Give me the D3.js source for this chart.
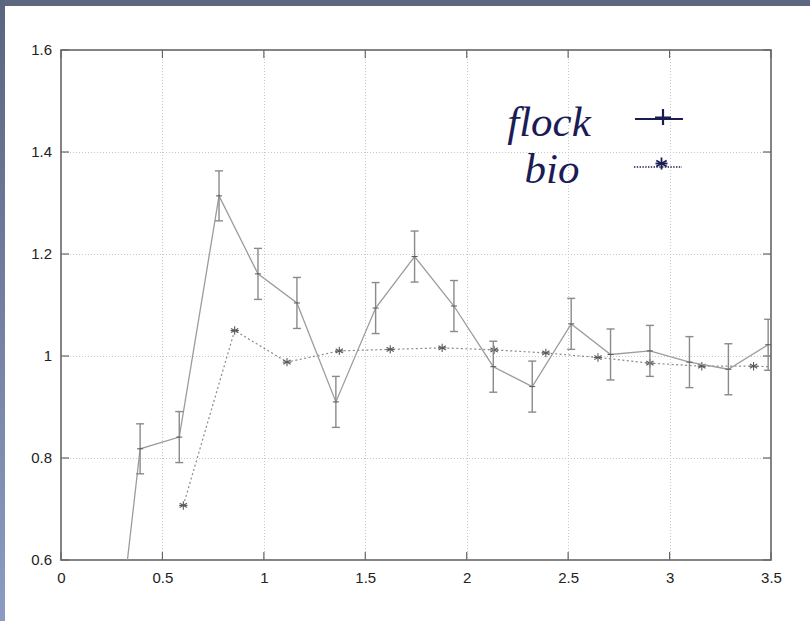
<!DOCTYPE html>
<html>
<head>
<meta charset="utf-8">
<script src="https://cdn.jsdelivr.net/npm/d3@7"></script>
<style>
  body { margin: 0; background: #fff; }
  svg { display: block; }
  .tick-label { font-family: "Liberation Sans", Arial, sans-serif; font-size: 15px; fill: #222; }
  .legend-text { font-family: "Liberation Serif", "Times New Roman", serif; font-style: italic; font-size: 43px; fill: #1c1c55; }
</style>
</head>
<body>
<div id="chart"></div>
<script>
// flock series (with error bars)
var flockX   = [0.19, 0.39, 0.583, 0.779, 0.971, 1.163, 1.355, 1.551, 1.743, 1.937, 2.131, 2.323, 2.515, 2.709, 2.903, 3.098, 3.29, 3.486];
var flockY   = [0.12, 0.818, 0.841, 1.314, 1.161, 1.104, 0.910, 1.094, 1.195, 1.098, 0.979, 0.940, 1.063, 1.003, 1.010, 0.988, 0.974, 1.022];
var flockErr = [0.05, 0.049, 0.050, 0.049, 0.050, 0.050, 0.050, 0.050, 0.050, 0.050, 0.050, 0.050, 0.050, 0.050, 0.050, 0.050, 0.050, 0.050];

// bio series
var bioX = [0.603, 0.856, 1.114, 1.372, 1.623, 1.879, 2.135, 2.39, 2.647, 2.903, 3.159, 3.414, 3.67];
var bioY = [0.707, 1.050, 0.988, 1.010, 1.013, 1.016, 1.012, 1.006, 0.997, 0.986, 0.980, 0.980, 0.977];

var xTicks = [0, 0.5, 1, 1.5, 2, 2.5, 3, 3.5];
var yTicks = [0.6, 0.8, 1, 1.2, 1.4, 1.6];
var legendNames = ["flock", "bio"];

var width = 810, height = 621;
var plot = {left: 61, right: 771, top: 50, bottom: 560};
var tickLen = 8;
const colorLegend = "#1c1c55", colorFrame = "#666";

var svg = d3.select("#chart").append("svg")
    .attr("width", width)
    .attr("height", height);

// slide background strips
var defs = svg.append("defs");
var grad = defs.append("linearGradient")
    .attr("id", "leftGrad")
    .attr("x1", 0).attr("y1", 0).attr("x2", 0).attr("y2", 1);
grad.append("stop").attr("offset", "0%").attr("stop-color", "#5a6580");
grad.append("stop").attr("offset", "100%").attr("stop-color", "#8c9bc2");

svg.append("rect").attr("x", 0).attr("y", 0).attr("width", width).attr("height", 6).attr("fill", "#5c6780");
svg.append("rect").attr("x", 0).attr("y", 0).attr("width", 5).attr("height", height).attr("fill", "url(#leftGrad)");

defs.append("clipPath").attr("id", "plotClip")
  .append("rect")
    .attr("x", plot.left).attr("y", plot.top)
    .attr("width", plot.right - plot.left)
    .attr("height", plot.bottom - plot.top);

var x = d3.scaleLinear().domain([0, 3.5]).range([plot.left, plot.right]);
var y = d3.scaleLinear().domain([0.6, 1.6]).range([plot.bottom, plot.top]);

// grid
var grid = svg.append("g").attr("stroke", "#c8c8c8").attr("stroke-width", 1).attr("stroke-dasharray", "1,2");
grid.selectAll(".gx").data(xTicks.slice(1, -1)).enter().append("line")
    .attr("x1", d => Math.round(x(d)) + 0.5).attr("x2", d => Math.round(x(d)) + 0.5)
    .attr("y1", plot.top).attr("y2", plot.bottom);
grid.selectAll(".gy").data(yTicks.slice(1, -1)).enter().append("line")
    .attr("y1", d => Math.round(y(d)) + 0.5).attr("y2", d => Math.round(y(d)) + 0.5)
    .attr("x1", plot.left).attr("x2", plot.right);

// axes (mirrored ticks inside the frame)
var axisBottom = d3.axisBottom(x).tickValues(xTicks).tickSize(0).tickPadding(12).tickFormat(d3.format("~g"));
var axisLeft = d3.axisLeft(y).tickValues(yTicks).tickSize(0).tickPadding(9).tickFormat(d3.format("~g"));

svg.append("g").attr("transform", "translate(0," + plot.bottom + ")").call(axisBottom)
    .call(g => g.select(".domain").remove())
    .selectAll("text").attr("class", "tick-label").attr("fill", null);
svg.append("g").attr("transform", "translate(" + plot.left + ",0)").call(axisLeft)
    .call(g => g.select(".domain").remove())
    .selectAll("text").attr("class", "tick-label").attr("fill", null);

var ticks = svg.append("g").attr("stroke", colorFrame).attr("stroke-width", 1.2);
xTicks.forEach(function(t) {
    ticks.append("line").attr("x1", x(t)).attr("x2", x(t)).attr("y1", plot.bottom).attr("y2", plot.bottom - tickLen);
    ticks.append("line").attr("x1", x(t)).attr("x2", x(t)).attr("y1", plot.top).attr("y2", plot.top + tickLen);
});
yTicks.forEach(function(t) {
    ticks.append("line").attr("y1", y(t)).attr("y2", y(t)).attr("x1", plot.left).attr("x2", plot.left + tickLen);
    ticks.append("line").attr("y1", y(t)).attr("y2", y(t)).attr("x1", plot.right).attr("x2", plot.right - tickLen);
});

svg.append("rect")
    .attr("x", plot.left).attr("y", plot.top)
    .attr("width", plot.right - plot.left).attr("height", plot.bottom - plot.top)
    .attr("fill", "none").attr("stroke", colorFrame).attr("stroke-width", 1.6);

var data = svg.append("g").attr("clip-path", "url(#plotClip)");

// bio: dotted line + asterisks
var bioPts = bioX.map((v, i) => ({x: v, y: bioY[i]}));
data.append("path")
    .datum(bioPts)
    .attr("d", d3.line().x(d => x(d.x)).y(d => y(d.y)))
    .attr("fill", "none").attr("stroke", "#8a8a8a").attr("stroke-width", 1.2).attr("stroke-dasharray", "2,2.5");

function asterisk(g, cx, cy, r, color, w) {
    [0, 60, 120].forEach(function(a) {
        var rad = a * Math.PI / 180;
        g.append("line")
            .attr("x1", cx - r * Math.sin(rad)).attr("y1", cy - r * Math.cos(rad))
            .attr("x2", cx + r * Math.sin(rad)).attr("y2", cy + r * Math.cos(rad))
            .attr("stroke", color).attr("stroke-width", w);
    });
    g.append("line").attr("x1", cx - r).attr("x2", cx + r).attr("y1", cy).attr("y2", cy)
        .attr("stroke", color).attr("stroke-width", w);
}
bioPts.forEach(d => asterisk(data, x(d.x), y(d.y), 4.2, "#5a5a5a", 1.1));

// flock: line + error bars + plus markers
var flockPts = flockX.map((v, i) => ({x: v, y: flockY[i], e: flockErr[i]}));
data.append("path")
    .datum(flockPts)
    .attr("d", d3.line().x(d => x(d.x)).y(d => y(d.y)))
    .attr("fill", "none").attr("stroke", "#9c9c9c").attr("stroke-width", 1.3);

var eb = data.selectAll(".errbar").data(flockPts).enter().append("g")
    .attr("stroke", "#8a8a8a").attr("stroke-width", 1.4);
eb.append("line")
    .attr("x1", d => x(d.x)).attr("x2", d => x(d.x))
    .attr("y1", d => y(d.y - d.e)).attr("y2", d => y(d.y + d.e));
eb.append("line")
    .attr("x1", d => x(d.x) - 4).attr("x2", d => x(d.x) + 4)
    .attr("y1", d => y(d.y + d.e)).attr("y2", d => y(d.y + d.e));
eb.append("line")
    .attr("x1", d => x(d.x) - 4).attr("x2", d => x(d.x) + 4)
    .attr("y1", d => y(d.y - d.e)).attr("y2", d => y(d.y - d.e));
eb.append("line")
    .attr("x1", d => x(d.x) - 3).attr("x2", d => x(d.x) + 3)
    .attr("y1", d => y(d.y)).attr("y2", d => y(d.y))
    .attr("stroke", "#555").attr("stroke-width", 1);

// legend
var legend = svg.append("g");
legend.append("text").attr("class", "legend-text")
    .attr("x", 549).attr("y", 136).attr("text-anchor", "middle").text(legendNames[0]);
legend.append("text").attr("class", "legend-text")
    .attr("x", 552).attr("y", 183).attr("text-anchor", "middle").text(legendNames[1]);

legend.append("line").attr("x1", 635).attr("x2", 683).attr("y1", 119).attr("y2", 119)
    .attr("stroke", colorLegend).attr("stroke-width", 2);
legend.append("line").attr("x1", 655).attr("x2", 671).attr("y1", 117.5).attr("y2", 117.5)
    .attr("stroke", colorLegend).attr("stroke-width", 2);
legend.append("line").attr("x1", 663).attr("x2", 663).attr("y1", 109).attr("y2", 125)
    .attr("stroke", colorLegend).attr("stroke-width", 2.2);

legend.append("line").attr("x1", 634).attr("x2", 682).attr("y1", 167).attr("y2", 167)
    .attr("stroke", colorLegend).attr("stroke-width", 1.4).attr("stroke-dasharray", "1.4,1.4");
asterisk(legend, 661.5, 163.5, 6, colorLegend, 1.8);
</script>
</body>
</html>
